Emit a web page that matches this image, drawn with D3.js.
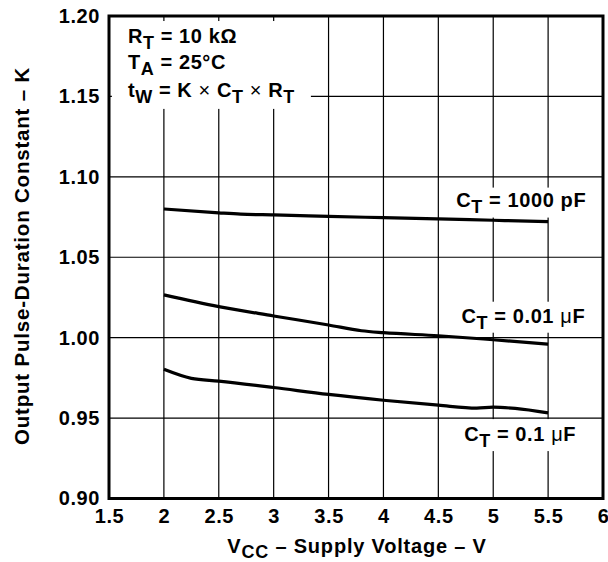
<!DOCTYPE html>
<html>
<head>
<meta charset="utf-8">
<script src="https://cdn.jsdelivr.net/npm/d3@7"></script>
<style>
  body { margin: 0; background: #fff; }
  text { font-family: "Liberation Sans", Arial, sans-serif; font-weight: bold; fill: #000; letter-spacing: 0.6px; }
</style>
</head>
<body>
<div id="chart"></div>
<script>
// values
const xTicks = [1.5, 2, 2.5, 3, 3.5, 4, 4.5, 5, 5.5, 6];
const yTicks = [0.90, 0.95, 1.00, 1.05, 1.10, 1.15, 1.20];

const vcc1000pF = [2, 2.5, 2.7, 3, 3.5, 4, 4.5, 5, 5.5];
const k1000pF   = [1.0800, 1.0776, 1.0768, 1.0763, 1.0754, 1.0746, 1.0738, 1.0730, 1.0721];

const vcc001uF = [2, 2.5, 3, 3.5, 3.8, 4, 4.5, 5, 5.5];
const k001uF   = [1.0266, 1.0193, 1.0135, 1.0079, 1.0043, 1.0031, 1.0012, 0.9987, 0.9960];

const vcc01uF = [2, 2.25, 2.5, 3, 3.5, 4, 4.5, 4.85, 5, 5.2, 5.5];
const k01uF   = [0.9803, 0.9747, 0.9730, 0.9690, 0.9647, 0.9611, 0.9580, 0.9562, 0.9568, 0.9560, 0.9532];

const WIDTH = 608, HEIGHT = 562;
const PLOT = { left: 109, right: 603, top: 16, bottom: 498.5 };
const FS = 20;

const svg = d3.select("#chart").append("svg")
  .attr("width", WIDTH).attr("height", HEIGHT)
  .style("background", "#fff");

const x = d3.scaleLinear().domain([1.5, 6]).range([PLOT.left, PLOT.right]);
const y = d3.scaleLinear().domain([0.9, 1.2]).range([PLOT.bottom, PLOT.top]);

// grid
const grid = svg.append("g");
grid.selectAll(".vg").data(xTicks.slice(1, -1)).join("line")
  .attr("x1", d => x(d)).attr("x2", d => x(d))
  .attr("y1", PLOT.top).attr("y2", PLOT.bottom)
  .attr("stroke", "#000").attr("stroke-width", 1.2);
grid.selectAll(".hg").data(yTicks.slice(1, -1)).join("line")
  .attr("x1", PLOT.left).attr("x2", PLOT.right)
  .attr("y1", d => y(d)).attr("y2", d => y(d))
  .attr("stroke", "#000").attr("stroke-width", 1.2);

// axes labels (no tick lines)
const xAxis = svg.append("g").attr("transform", `translate(0,${PLOT.bottom})`)
  .call(d3.axisBottom(x).tickValues(xTicks).tickSize(0).tickPadding(10).tickFormat(d => String(d)));
xAxis.select(".domain").remove();
xAxis.selectAll("text").attr("font-size", FS).style("font-family", null);

const yAxis = svg.append("g").attr("transform", `translate(${PLOT.left},0)`)
  .call(d3.axisLeft(y).tickValues(yTicks).tickSize(0).tickPadding(9).tickFormat(d3.format(".2f")));
yAxis.select(".domain").remove();
yAxis.selectAll("text").attr("font-size", FS).style("font-family", null);

// white boxes go under the curves, text on top
const boxes = svg.append("g");
const curves = svg.append("g");
const texts = svg.append("g");

// rich text: parts [text, kind] kind 1 = subscript, -1 = back to baseline, 2 = plain weight
function richText(parent, parts, px, py, anchor) {
  const t = parent.append("text").attr("x", px).attr("y", py)
    .attr("text-anchor", anchor).attr("font-size", FS);
  parts.forEach(p => {
    const sp = t.append("tspan").text(p[0]);
    if (p[1] === 1) sp.attr("dy", 6).attr("font-size", FS - 2);
    if (p[1] === -1) sp.attr("dy", -6);
    if (p[1] === 2) sp.attr("font-weight", "normal");
  });
  return t;
}

function label(parts, px, py, padX, padTop, padBot) {
  const t = richText(texts, parts, px, py, "end");
  const b = t.node().getBBox();
  boxes.append("rect").attr("fill", "#fff")
    .attr("x", b.x - padX).attr("y", b.y - padTop)
    .attr("width", b.width + 2 * padX).attr("height", b.height + padTop + padBot);
}

// conditions block
const noteLines = [
  [["R", 0], ["T", 1], [" = 10 k\u03A9", -1]],
  [["T", 0], ["A", 1], [" = 25\u00B0C", -1]],
  [["t", 0], ["W", 1], [" = K ", -1], ["\u00D7", 2], [" C", 0], ["T", 1], [" ", -1], ["\u00D7", 2], [" R", 0], ["T", 1]]
];
const noteBase = [1.1832, 1.1671, 1.1497];
const note = texts.append("g");
noteLines.forEach((parts, i) => richText(note, parts, x(1.672), y(noteBase[i]), "start"));
const nb = note.node().getBBox();
boxes.append("rect").attr("fill", "#fff")
  .attr("x", nb.x - 16).attr("y", nb.y - 4).attr("width", nb.width + 32).attr("height", nb.height + 6);

label([["C", 0], ["T", 1], [" = 1000 pF", -1]], x(5.847), y(1.0815), 7, 1, 1);
label([["C", 0], ["T", 1], [" = 0.01 ", -1], ["\u03BC", 2], ["F", 0]], x(5.838), y(1.0093), 7, 3, 0);
label([["C", 0], ["T", 1], [" = 0.1 ", -1], ["\u03BC", 2], ["F", 0]], x(5.755), y(0.9357), 7, 4, 0);

// curves
const series = [
  { v: vcc1000pF, k: k1000pF },
  { v: vcc001uF, k: k001uF },
  { v: vcc01uF, k: k01uF }
];
const line = d3.line()
  .x(d => x(d[0])).y(d => y(d[1]))
  .curve(d3.curveMonotoneX);
curves.selectAll("path").data(series).join("path")
  .attr("d", s => line(s.v.map((v, i) => [v, s.k[i]])))
  .attr("fill", "none").attr("stroke", "#000").attr("stroke-width", 3.2);

// frame
svg.append("rect")
  .attr("x", PLOT.left).attr("y", PLOT.top)
  .attr("width", PLOT.right - PLOT.left).attr("height", PLOT.bottom - PLOT.top)
  .attr("fill", "none").attr("stroke", "#000").attr("stroke-width", 3);

// axis titles
const xt = svg.append("text").attr("x", (PLOT.left + PLOT.right) / 2 + 1).attr("y", 553)
  .attr("text-anchor", "middle").attr("font-size", FS).style("letter-spacing", "0.8px");
xt.append("tspan").text("V");
xt.append("tspan").text("CC").attr("dy", 5).attr("font-size", FS - 2);
xt.append("tspan").text(" \u2013 Supply Voltage \u2013 V").attr("dy", -5);

svg.append("text")
  .attr("transform", `translate(29,256) rotate(-90)`)
  .attr("text-anchor", "middle").attr("font-size", 20.5).style("letter-spacing", "0.8px")
  .text("Output Pulse-Duration Constant \u2013 K");
</script>
</body>
</html>
